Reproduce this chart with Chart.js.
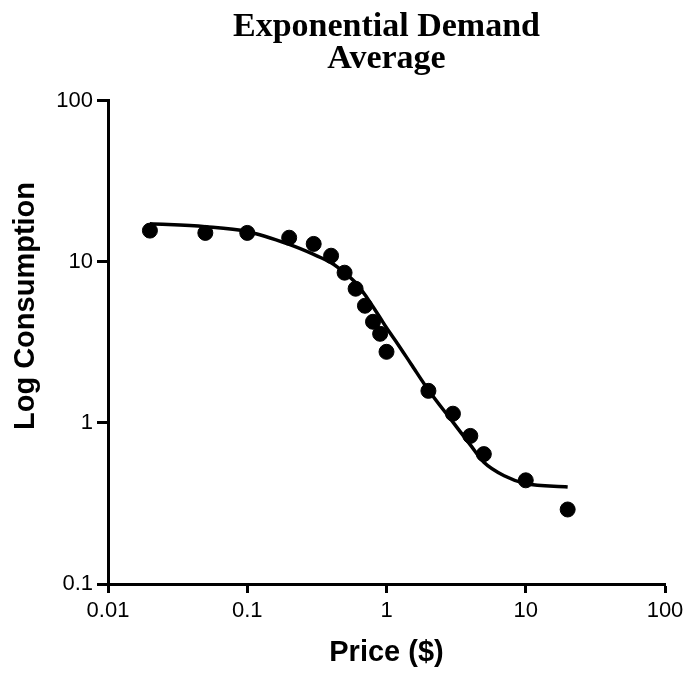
<!DOCTYPE html>
<html>
<head>
<meta charset="utf-8">
<script src="https://cdn.jsdelivr.net/npm/chart.js@4"></script>
<style>
  html, body { margin: 0; padding: 0; background: #fff; }
  #wrap { width: 689px; height: 674px; }
</style>
</head>
<body>
<div id="wrap"><canvas id="demandChart" width="689" height="674"></canvas></div>
<script>
// observed average consumption at each price
const prices = [0.02, 0.05, 0.1, 0.2, 0.3, 0.4, 0.5, 0.6, 0.7, 0.8, 0.9, 1, 2, 3, 4, 5, 10, 20];
const consumption = [15.6, 15.1, 15.1, 14.1, 12.9, 10.9, 8.55, 6.8, 5.33, 4.24, 3.57, 2.76, 1.58, 1.14, 0.83, 0.64, 0.44, 0.29];

// fitted curve
const curvePrices = [0.02, 0.05, 0.1, 0.2, 0.3, 0.4, 0.5, 0.6, 0.7, 0.8, 0.9, 1, 1.2, 1.5, 2, 3, 4, 5, 7, 10, 20];
const curveValues = [17.2, 16.5, 15.4, 12.8, 11.1, 9.86, 8.55, 7.41, 6.24, 5.25, 4.49, 3.89, 3.1, 2.32, 1.6, 1.01, 0.73, 0.57, 0.47, 0.42, 0.40];

const xTicks = [0.01, 0.1, 1, 10, 100];
const yTicks = [0.1, 1, 10, 100];

function toPoints(xs, ys) {
    return xs.map((x, i) => ({ x: x, y: ys[i] }));
}

// y axis title sits a bit above the middle of the axis in the original
const yTitlePlugin = {
    id: 'yTitle',
    afterDraw(chart) {
        const c = chart.ctx;
        c.save();
        c.translate(26, 306);
        c.rotate(-Math.PI / 2);
        c.fillStyle = '#000';
        c.font = 'bold 29px "Liberation Sans"';
        c.textAlign = 'center';
        c.textBaseline = 'middle';
        c.fillText('Log Consumption', 0, 0);
        c.restore();
    }
};

const ctx = document.getElementById('demandChart').getContext('2d');

new Chart(ctx, {
    type: 'scatter',
    data: {
        datasets: [
            {
                label: 'Fit',
                data: toPoints(curvePrices, curveValues),
                showLine: true,
                borderColor: '#000',
                borderWidth: 3.5,
                pointRadius: 0,
                cubicInterpolationMode: 'monotone',
                order: 2
            },
            {
                label: 'Average',
                data: toPoints(prices, consumption),
                backgroundColor: '#000',
                borderColor: '#000',
                pointRadius: 7.5,
                order: 1
            }
        ]
    },
    plugins: [yTitlePlugin],
    options: {
        responsive: false,
        animation: false,
        layout: { padding: { left: 0, right: 24, top: 0, bottom: 0 } },
        plugins: {
            legend: { display: false },
            tooltip: { enabled: false },
            title: {
                display: true,
                fullSize: false,
                text: ['Exponential Demand', 'Average'],
                color: '#000',
                font: { family: 'Liberation Serif', size: 34, weight: 'bold', lineHeight: 0.95 },
                padding: { top: 11, bottom: 25 }
            }
        },
        scales: {
            x: {
                type: 'logarithmic',
                min: 0.01,
                max: 100,
                afterBuildTicks: (scale) => { scale.ticks = xTicks.map(v => ({ value: v })); },
                afterFit: (scale) => { scale.height = 90; },
                ticks: {
                    color: '#000',
                    font: { family: 'Liberation Sans', size: 22 },
                    padding: 5,
                    maxRotation: 0,
                    callback: (v) => String(v)
                },
                grid: { drawOnChartArea: false, color: '#000', tickLength: 9, tickWidth: 3 },
                border: { color: '#000', width: 3 },
                title: {
                    display: true,
                    text: 'Price ($)',
                    color: '#000',
                    font: { family: 'Liberation Sans', size: 29, weight: 'bold' },
                    padding: { top: 5 }
                }
            },
            y: {
                type: 'logarithmic',
                min: 0.1,
                max: 100,
                afterBuildTicks: (scale) => { scale.ticks = yTicks.map(v => ({ value: v })); },
                afterFit: (scale) => { scale.width = 108; },
                ticks: {
                    color: '#000',
                    font: { family: 'Liberation Sans', size: 22 },
                    padding: 4,
                    callback: (v) => String(v)
                },
                grid: { drawOnChartArea: false, color: '#000', tickLength: 11, tickWidth: 3 },
                border: { color: '#000', width: 3 }
            }
        }
    }
});
</script>
</body>
</html>
